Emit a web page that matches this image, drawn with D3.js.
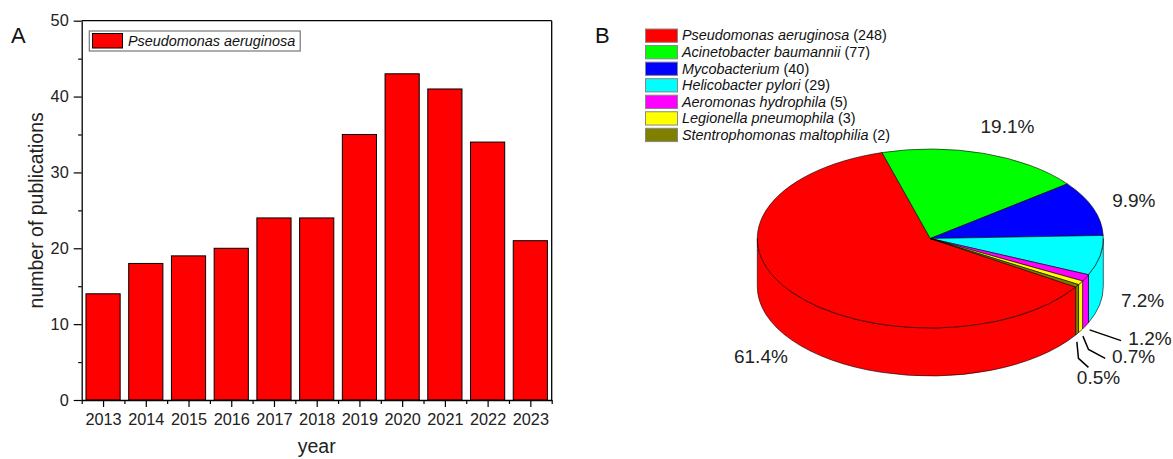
<!DOCTYPE html>
<html>
<head>
<meta charset="utf-8">
<script src="https://cdn.jsdelivr.net/npm/d3@7"></script>
<style>
  html, body { margin: 0; padding: 0; background: #fff; }
  svg { display: block; font-family: "Liberation Sans", Arial, sans-serif; }
</style>
</head>
<body>
<svg id="chart" width="1173" height="459"></svg>
<script>
// ---------------- data ----------------
const years = [2013, 2014, 2015, 2016, 2017, 2018, 2019, 2020, 2021, 2022, 2023];
const publications = [14, 18, 19, 20, 24, 24, 35, 43, 41, 34, 21];
const yTicks = [0, 10, 20, 30, 40, 50];
const yMinorTicks = [5, 15, 25, 35, 45];
const barSeriesName = "Pseudomonas aeruginosa";

const species = ["Pseudomonas aeruginosa", "Acinetobacter baumannii", "Mycobacterium",
  "Helicobacter pylori", "Aeromonas hydrophila", "Legionella pneumophila",
  "Stentrophomonas maltophilia"];
const speciesCounts = [248, 77, 40, 29, 5, 3, 2];
const speciesColors = ["#ff0000", "#00ff00", "#0000ff", "#00ffff", "#ff00ff", "#ffff00", "#808000"];

// ---------------- setup ----------------
const svg = d3.select("#chart");
const FONT = "Liberation Sans, Arial, sans-serif";

// ================= Panel A: bar chart =================
const plotL = 81.7, plotR = 551.7, plotT = 20.7, plotB = 400;
const x = d3.scaleLinear().domain([2012.5, 2023.5]).range([plotL, plotR]);
const y = d3.scaleLinear().domain([0, 50]).range([plotB, plotT]);

const gA = svg.append("g");

gA.selectAll("rect.bar")
  .data(years.map((yr, i) => ({ yr, v: publications[i] })))
  .join("rect")
  .attr("class", "bar")
  .attr("x", d => x(d.yr - 0.4))
  .attr("width", d => x(d.yr + 0.4) - x(d.yr - 0.4))
  .attr("y", d => y(d.v))
  .attr("height", d => y(0) - y(d.v))
  .attr("fill", "#ff0000")
  .attr("stroke", "#000")
  .attr("stroke-width", 1);

// frame top/right
gA.append("line").attr("x1", plotL).attr("x2", plotR).attr("y1", plotT).attr("y2", plotT)
  .attr("stroke", "#000").attr("stroke-width", 1.3);
gA.append("line").attr("x1", plotR).attr("x2", plotR).attr("y1", plotT).attr("y2", plotB)
  .attr("stroke", "#000").attr("stroke-width", 1.3);

// y axis
gA.append("g").attr("transform", `translate(${plotL},0)`)
  .call(d3.axisLeft(y).tickValues(yTicks).tickSize(8).tickSizeOuter(0).tickPadding(5));
gA.append("g").attr("transform", `translate(${plotL},0)`)
  .call(d3.axisLeft(y).tickValues(yMinorTicks).tickSize(3.5).tickFormat(""))
  .call(g => g.select(".domain").remove());

// x axis
gA.append("g").attr("transform", `translate(0,${plotB})`)
  .call(d3.axisBottom(x).tickValues(years).tickSize(7).tickSizeOuter(0).tickPadding(6).tickFormat(d3.format("d")));
const boundaries = years.map(v => v - 0.5).concat([years[years.length - 1] + 0.5]);
gA.append("g").attr("transform", `translate(0,${plotB})`)
  .call(d3.axisBottom(x).tickValues(boundaries).tickSize(4).tickFormat(""))
  .call(g => g.select(".domain").remove());

gA.selectAll(".domain").attr("stroke", "#000").attr("stroke-width", 1.3);
gA.selectAll(".tick line").attr("stroke", "#000").attr("stroke-width", 1.2);
gA.selectAll(".tick text").attr("font-family", FONT).attr("font-size", 16.3).attr("fill", "#222");

// axis titles
gA.append("text")
  .attr("transform", `translate(43,${(plotT + plotB) / 2}) rotate(-90)`)
  .attr("text-anchor", "middle")
  .attr("font-size", 19.5).attr("fill", "#222")
  .text("number of publications");
gA.append("text")
  .attr("x", (plotL + plotR) / 2).attr("y", 453)
  .attr("text-anchor", "middle")
  .attr("font-size", 19.5).attr("fill", "#222")
  .text("year");

// panel letter
gA.append("text").attr("x", 11).attr("y", 43).attr("font-size", 22).attr("fill", "#111").text("A");

// legend A
const legA = gA.append("g");
const legAText = legA.append("text")
  .attr("x", 128).attr("y", 46)
  .attr("font-size", 14.4).attr("font-style", "italic").attr("fill", "#111")
  .text(barSeriesName);
const tw = legAText.node().getComputedTextLength();
legA.insert("rect", "text")
  .attr("x", 89.3).attr("y", 31).attr("width", 128 + tw + 5 - 89.3).attr("height", 20)
  .attr("fill", "#fff").attr("stroke", "#777").attr("stroke-width", 1.2);
legA.insert("rect", "text")
  .attr("x", 92.5).attr("y", 33.5).attr("width", 30).attr("height", 14.5)
  .attr("fill", "#ff0000").attr("stroke", "#000").attr("stroke-width", 1);

// ================= Panel B: 3D pie =================
const gB = svg.append("g");
gB.append("text").attr("x", 595).attr("y", 43).attr("font-size", 22).attr("fill", "#111").text("B");

// legend B
const legRows = gB.selectAll("g.leg").data(species.map((s, i) => ({ s, c: speciesCounts[i], col: speciesColors[i], i })))
  .join("g").attr("class", "leg")
  .attr("transform", d => `translate(0,${29 + d.i * 16.55})`);
legRows.append("rect")
  .attr("x", 645.5).attr("y", 0).attr("width", 32).attr("height", 13.3)
  .attr("fill", d => d.col).attr("stroke", "#888").attr("stroke-width", 1);
const lt = legRows.append("text").attr("x", 682).attr("y", 11.4).attr("font-size", 14.4).attr("fill", "#111");
lt.append("tspan").attr("font-style", "italic").text(d => d.s);
lt.append("tspan").text(d => ` (${d.c})`);

// pie geometry
const cx = 930.3, cy = 238.5, rx = 173, ry = 89.5, depth = 48;
const total = d3.sum(speciesCounts);
const startDeg = 122.8;
const pie = d3.pie().sort(null)
  .startAngle(startDeg * Math.PI / 180)
  .endAngle(startDeg * Math.PI / 180 + 2 * Math.PI);
const arcs = pie(speciesCounts).map((a, i) => ({ ...a, i, col: speciesColors[i] }));

const pt = (a, dy = 0) => [cx + rx * Math.sin(a), cy - ry * Math.cos(a) + dy];

// side walls (front half only: angles in [PI/2, 3PI/2] mod 2PI)
const sideG = gB.append("g");
const fronts = [[Math.PI / 2, 3 * Math.PI / 2], [Math.PI / 2 + 2 * Math.PI, 3 * Math.PI / 2 + 2 * Math.PI]];
arcs.forEach(a => {
  fronts.forEach(([f0, f1]) => {
    const b0 = Math.max(a.startAngle, f0), b1 = Math.min(a.endAngle, f1);
    if (b1 - b0 > 1e-6) {
      const p0 = pt(b0), p1 = pt(b1), q1 = pt(b1, depth), q0 = pt(b0, depth);
      const large = (b1 - b0) > Math.PI ? 1 : 0;
      const d = `M${p0}A${rx},${ry} 0 ${large} 1 ${p1}L${q1}A${rx},${ry} 0 ${large} 0 ${q0}Z`;
      sideG.append("path").attr("d", d).attr("fill", a.col)
        .attr("stroke", "#000").attr("stroke-width", 0.6).attr("stroke-linejoin", "round");
    }
  });
});

// top faces
const topG = gB.append("g");
arcs.forEach(a => {
  const p0 = pt(a.startAngle), p1 = pt(a.endAngle);
  const large = (a.endAngle - a.startAngle) > Math.PI ? 1 : 0;
  topG.append("path")
    .attr("d", `M${cx},${cy}L${p0}A${rx},${ry} 0 ${large} 1 ${p1}Z`)
    .attr("fill", a.col).attr("stroke", "#000").attr("stroke-width", 0.6)
    .attr("stroke-linejoin", "round");
});

// percentage labels
const pctText = v => (v / total * 100).toFixed(1) + "%";
const labG = gB.append("g").attr("font-size", 19).attr("fill", "#222");
// big slices: placed outward along the mid angle
const nudge = { 0: [4, 3], 1: [10, -6], 3: [0, -7] };
arcs.filter(a => a.value / total > 0.05).forEach(a => {
  const m = (a.startAngle + a.endAngle) / 2;
  const front = Math.cos(m) < 0;
  const [nx, ny] = nudge[a.i] || [0, 0];
  const px = cx + 1.25 * rx * Math.sin(m) + nx;
  const py = cy - 1.25 * ry * Math.cos(m) + (front ? depth : 0) + ny;
  labG.append("text").attr("x", px).attr("y", py).attr("dy", "0.35em")
    .attr("text-anchor", "middle").text(pctText(a.value));
});
// small slices: leader lines from the bottom edge of the side wall
const leaderShapes = {
  4: { start: [4, 4], path: [[0, 0], [31.4, 10.7]], text: [7.3, -2.7] },
  5: { start: [2.3, 5.3], path: [[0, 0], [5.6, 13.3], [22.3, 22.3]], text: [6.7, -1.6] },
  6: { start: [-0.3, 8], path: [[0, 0], [1.6, 16.6], [11.6, 25.6]], text: [-11.6, 10.2] }
};
arcs.filter(a => a.value / total <= 0.05).forEach(a => {
  const m = (a.startAngle + a.endAngle) / 2;
  const L = leaderShapes[a.i];
  const [ex, ey] = pt(m, depth);
  const sx = ex + L.start[0], sy = ey + L.start[1];
  const pts = L.path.map(([dx, dy]) => [sx + dx, sy + dy]);
  labG.append("path").attr("d", d3.line()(pts)).attr("fill", "none")
    .attr("stroke", "#000").attr("stroke-width", 1.5);
  const last = pts[pts.length - 1];
  labG.append("text").attr("x", last[0] + L.text[0]).attr("y", last[1] + L.text[1])
    .attr("dy", "0.35em").attr("text-anchor", "start").text(pctText(a.value));
});
</script>
</body>
</html>
